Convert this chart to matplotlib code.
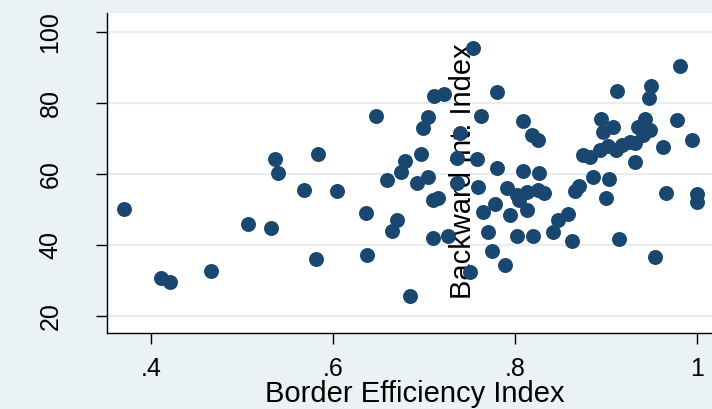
import matplotlib.pyplot as plt

plt.rcParams['font.family'] = ['Liberation Sans', 'DejaVu Sans']

# Border Efficiency Index (x) vs Backward Int. Index (y)
border_eff = [
    0.371, 0.411, 0.421, 0.466, 0.507, 0.532, 0.537, 0.540, 0.568, 0.584,
    0.582, 0.605, 0.637, 0.638, 0.647, 0.660, 0.665, 0.671, 0.675, 0.679,
    0.685, 0.692, 0.697, 0.699, 0.705, 0.705, 0.711, 0.722, 0.710, 0.716,
    0.710, 0.727, 0.740, 0.736, 0.736, 0.758, 0.754, 0.763, 0.760, 0.765,
    0.771, 0.751, 0.775, 0.778, 0.780, 0.780, 0.789, 0.795, 0.791, 0.802,
    0.802, 0.805, 0.809, 0.809, 0.813, 0.813, 0.819, 0.825, 0.820, 0.825,
    0.832, 0.827, 0.842, 0.847, 0.858, 0.863, 0.866, 0.870, 0.875, 0.882,
    0.886, 0.895, 0.893, 0.897, 0.903, 0.900, 0.908, 0.902, 0.912, 0.911,
    0.914, 0.918, 0.932, 0.932, 0.935, 0.943, 0.941, 0.948, 0.949, 0.947,
    0.954, 0.963, 0.966, 0.978, 0.981, 0.995, 1.000, 1.000, 0.926,
]
backward_int = [
    50.1, 30.7, 29.6, 32.7, 45.9, 44.8, 64.2, 60.3, 55.5, 65.6,
    36.1, 55.2, 49.0, 37.2, 76.3, 58.3, 43.9, 47.0, 60.6, 63.7,
    25.6, 57.5, 65.6, 73.0, 76.1, 59.2, 82.0, 82.5, 52.7, 53.2,
    42.0, 42.5, 71.5, 64.5, 57.5, 64.2, 95.5, 76.3, 56.3, 49.3,
    43.7, 32.4, 38.3, 51.5, 61.7, 83.1, 34.4, 48.5, 56.1, 54.1,
    42.5, 52.7, 60.8, 74.9, 49.9, 54.9, 71.0, 69.6, 42.5, 55.5,
    54.6, 60.3, 43.7, 47.0, 48.7, 41.1, 55.2, 56.6, 65.4, 64.8,
    59.2, 75.5, 66.8, 71.8, 58.6, 53.2, 73.2, 67.9, 83.4, 66.8,
    41.7, 68.2, 68.7, 63.4, 73.2, 75.5, 71.0, 72.4, 84.8, 81.4,
    36.6, 67.6, 54.6, 75.2, 90.4, 69.6, 54.4, 52.1, 69.0,
]

x_ticks = [0.4, 0.6, 0.8, 1.0]
x_tick_labels = ['.4', '.6', '.8', '1']
y_ticks = [20, 40, 60, 80, 100]

bg = '#eaf2f3'
navy = '#1a476f'

fig = plt.figure(figsize=(7.12, 4.09), dpi=100, facecolor=bg)
ax = fig.add_axes([0.1503, 0.1858, 0.8497, 0.7824])
ax.set_facecolor('white')

ax.scatter(border_eff, backward_int, s=116, color=navy, linewidths=0, zorder=3)

ax.set_xlim(0.352, 1.0165)
ax.set_ylim(15.2, 105.4)
ax.set_xticks(x_ticks)
ax.set_xticklabels(x_tick_labels)
ax.set_yticks(y_ticks)
ax.set_yticklabels([str(v) for v in y_ticks], rotation=90, va='center')

ax.grid(axis='y', color='#e6eef1', linewidth=1.6, zorder=0)
ax.set_axisbelow(True)

for side in ('top', 'right'):
    ax.spines[side].set_visible(False)
for side in ('left', 'bottom'):
    ax.spines[side].set_color('black')
    ax.spines[side].set_linewidth(1.0)

ax.tick_params(axis='both', direction='out', length=8, width=1.0,
               color='black', labelsize=18, labelcolor='black')
ax.tick_params(axis='y', pad=24)
ax.tick_params(axis='x', pad=9)

ax.set_xlabel('Border Efficiency Index', fontsize=21)
ax.xaxis.set_label_coords(0.509, -0.146)
ax.xaxis.label.set_va('top')

ax.set_ylabel('Backward Int. Index', fontsize=21)
ax.yaxis.set_label_coords(0.612, 0.506)

fig.savefig('out.png', dpi=100, facecolor=bg)
